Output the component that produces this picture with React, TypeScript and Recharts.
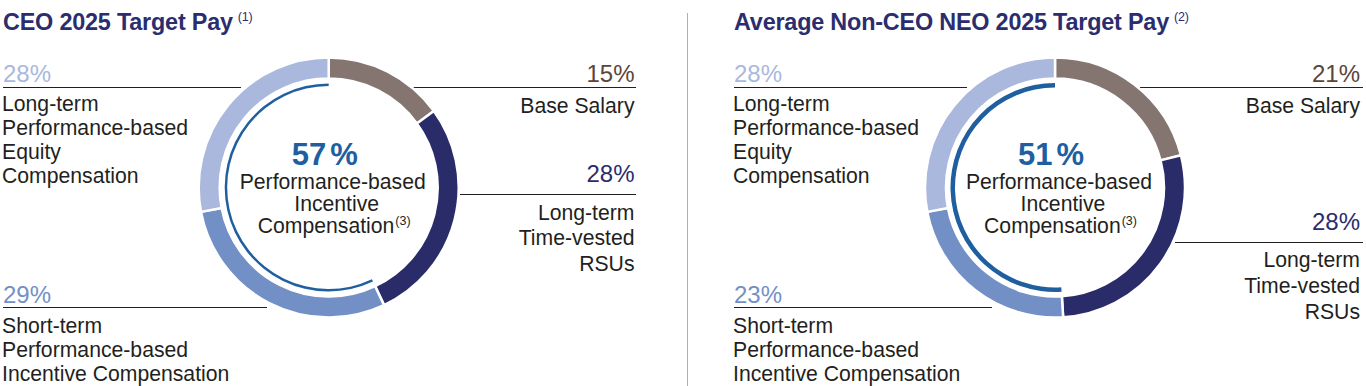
import React from 'react';
import { PieChart, Pie, Cell, Customized } from 'recharts';

// ---------- data ----------
const segmentNames = [
  'Base Salary',
  'Long-term Time-vested RSUs',
  'Short-term Performance-based Incentive Compensation',
  'Long-term Performance-based Equity Compensation',
];
const ceoValues = [15, 28, 29, 28];
const neoValues = [21, 28, 23, 28];
const performanceIdx = [2, 3];
const chartTitles = ['CEO 2025 Target Pay', 'Average Non-CEO NEO 2025 Target Pay'];
const titleNotes = ['(1)', '(2)'];
const centerLines = ['Performance-based', 'Incentive', 'Compensation'];
const centerNote = '(3)';
const labelLines = [
  ['Base Salary'],
  ['Long-term', 'Time-vested', 'RSUs'],
  ['Short-term', 'Performance-based', 'Incentive Compensation'],
  ['Long-term', 'Performance-based', 'Equity', 'Compensation'],
];

// ---------- styles ----------
const segmentColors = ['#857570', '#2a2c6a', '#7390c6', '#aab8de'];
const pctColors = ['#5d4537', '#2b2c6c', '#7390c6', '#a9b8de'];
const arcColor = '#1f5fa0';
const textColor = '#231f20';
const titleColor = '#2b2d6e';
const FONT = '"Liberation Sans", Arial, sans-serif';
const BODY = 21.2;
const PCT = 24;
const TITLE = 23.4;

const W = 1366;
const H = 386;

type Panel = {
  values: number[];
  cx: number;
  left: number;
  right: number;
  lineEnds: { tl: number; tr: number; mr: number; bl: number; rEnd: number };
  midPctY: number;
  midLineY: number;
  midTextY: number[];
  arcInner: number;
  arcOuter: number;
};

const panels: Panel[] = [
  {
    values: ceoValues,
    cx: 328.7,
    left: 3,
    right: 634.5,
    lineEnds: { tl: 241, tr: 413, mr: 460, bl: 267, rEnd: 636 },
    midPctY: 182.3,
    midLineY: 194.5,
    midTextY: [219.5, 245, 271],
    arcInner: 101.5,
    arcOuter: 104,
  },
  {
    values: neoValues,
    cx: 1055,
    left: 734,
    right: 1360,
    lineEnds: { tl: 967, tr: 1140, mr: 1175, bl: 992, rEnd: 1363 },
    midPctY: 230,
    midLineY: 242.5,
    midTextY: [267, 292.5, 318.5],
    arcInner: 100,
    arcOuter: 104.5,
  },
];

const CY = 187.5;

const toData = (vals: number[]) => vals.map((v, i) => ({ name: segmentNames[i], value: v }));
const perfTotal = (vals: number[]) => performanceIdx.reduce((s, i) => s + vals[i], 0);
const arcData = (vals: number[]) => {
  const p = perfTotal(vals);
  return [
    { name: 'perf', value: p },
    { name: 'rest', value: 100 - p },
  ];
};

const Overlay = () => {
  return (
    <g fontFamily={FONT}>
      {/* separator */}
      <line x1={687.5} y1={13} x2={687.5} y2={H} stroke="#a3b0cb" strokeWidth={1} />
      {panels.map((p, k) => {
        const perf = perfTotal(p.values);
        return (
          <g key={k}>
            {/* title */}
            <text x={p.left} y={29.5} fill={titleColor} fontSize={TITLE} fontWeight={700} letterSpacing={-0.2}>
              {chartTitles[k]}
              <tspan fontSize={12.5} fontWeight={400} dx={5} dy={-9}>
                {titleNotes[k]}
              </tspan>
            </text>

            {/* top-left: LT perf equity */}
            <text x={p.left} y={81.7} fill={pctColors[3]} fontSize={PCT}>
              {p.values[3]}%
            </text>
            <line x1={p.left} y1={87.5} x2={p.lineEnds.tl} y2={87.5} stroke={textColor} strokeWidth={1} />
            {labelLines[3].map((t, i) => (
              <text key={i} x={p.left - 1} y={111 + i * 24} fill={textColor} fontSize={BODY}>
                {t}
              </text>
            ))}

            {/* top-right: base salary */}
            <text x={p.right} y={82.3} fill={pctColors[0]} fontSize={PCT} textAnchor="end">
              {p.values[0]}%
            </text>
            <line x1={p.lineEnds.tr} y1={87.5} x2={p.lineEnds.rEnd} y2={87.5} stroke={textColor} strokeWidth={1} />
            {labelLines[0].map((t, i) => (
              <text key={i} x={p.right} y={112.5 + i * 25.5} fill={textColor} fontSize={BODY} textAnchor="end">
                {t}
              </text>
            ))}

            {/* mid-right: RSUs */}
            <text x={p.right} y={p.midPctY} fill={pctColors[1]} fontSize={PCT} textAnchor="end">
              {p.values[1]}%
            </text>
            <line x1={p.lineEnds.mr} y1={p.midLineY} x2={p.lineEnds.rEnd} y2={p.midLineY} stroke={textColor} strokeWidth={1} />
            {labelLines[1].map((t, i) => (
              <text key={i} x={p.right} y={p.midTextY[i]} fill={textColor} fontSize={BODY} textAnchor="end">
                {t}
              </text>
            ))}

            {/* bottom-left: ST incentive */}
            <text x={p.left} y={302.7} fill={pctColors[2]} fontSize={PCT}>
              {p.values[2]}%
            </text>
            <line x1={p.left} y1={307.5} x2={p.lineEnds.bl} y2={307.5} stroke={textColor} strokeWidth={1} />
            {labelLines[2].map((t, i) => (
              <text key={i} x={p.left - 1} y={332.7 + i * 24} fill={textColor} fontSize={BODY}>
                {t}
              </text>
            ))}

            {/* center */}
            <text x={p.cx - 4} y={165} fill={arcColor} fontSize={31} fontWeight={700} textAnchor="middle">
              {perf}
              <tspan dx={4}>%</tspan>
            </text>
            <text x={p.cx + 4} y={189.3} fill={textColor} fontSize={BODY} textAnchor="middle">
              {centerLines[0]}
            </text>
            <text x={p.cx + 8} y={210.7} fill={textColor} fontSize={BODY} textAnchor="middle">
              {centerLines[1]}
            </text>
            <text x={p.cx + 5.5} y={232.7} fill={textColor} fontSize={BODY} textAnchor="middle">
              {centerLines[2]}
              <tspan fontSize={12.5} dx={1} dy={-8}>
                {centerNote}
              </tspan>
            </text>
          </g>
        );
      })}
    </g>
  );
};

export default function App() {
  return (
    <div style={{ position: 'absolute', left: 0, top: 0, width: W, height: H, background: '#fff' }}>
      <PieChart width={W} height={H} margin={{ top: 0, right: 0, bottom: 0, left: 0 }}>
        {panels.map((p, k) => (
          <Pie
            key={`ring-${k}`}
            data={toData(p.values)}
            dataKey="value"
            nameKey="name"
            cx={p.cx}
            cy={CY}
            innerRadius={109}
            outerRadius={130}
            startAngle={90}
            endAngle={-270}
            stroke="#ffffff"
            strokeWidth={2.5}
            isAnimationActive={false}
          >
            {p.values.map((_, i) => (
              <Cell key={i} fill={segmentColors[i]} />
            ))}
          </Pie>
        ))}
        {panels.map((p, k) => (
          <Pie
            key={`arc-${k}`}
            data={arcData(p.values)}
            dataKey="value"
            nameKey="name"
            cx={p.cx}
            cy={CY}
            innerRadius={p.arcInner}
            outerRadius={p.arcOuter}
            startAngle={90}
            endAngle={450}
            stroke="none"
            isAnimationActive={false}
          >
            <Cell fill={arcColor} />
            <Cell fill="transparent" />
          </Pie>
        ))}
        <Customized component={Overlay} />
      </PieChart>
    </div>
  );
}
